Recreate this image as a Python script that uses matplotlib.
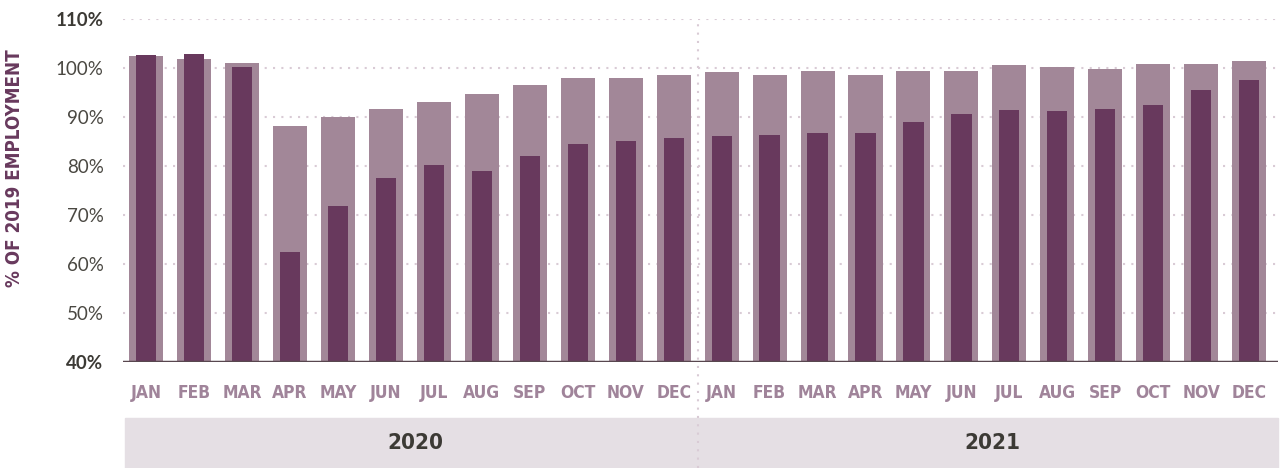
import numpy as np
import matplotlib
matplotlib.use("Agg")
import matplotlib.pyplot as plt
from matplotlib.patches import Rectangle
import matplotlib.transforms as mtransforms

# data
years = ["2020", "2021"]
months = ["JAN", "FEB", "MAR", "APR", "MAY", "JUN",
          "JUL", "AUG", "SEP", "OCT", "NOV", "DEC"]

total_pct = [102.4, 101.8, 101.0, 88.2, 90.0, 91.6, 93.0, 94.7, 96.5, 98.0, 98.0, 98.6,
             99.2, 98.6, 99.4, 98.6, 99.4, 99.4, 100.6, 100.2, 99.8, 100.8, 100.8, 101.4]
segment_pct = [102.7, 102.9, 100.2, 62.5, 71.9, 77.5, 80.3, 79.0, 82.0, 84.4, 85.1, 85.8,
               86.1, 86.3, 86.7, 86.7, 89.0, 90.6, 91.4, 91.2, 91.6, 92.4, 95.5, 97.6]

yticks = [40, 50, 60, 70, 80, 90, 100, 110]

LIGHT = "#a28798"
DARK = "#68395d"
GRID = "#d9cbd5"
TEXT = "#3c3a35"
MONTHCOL = "#a0849a"
BAND = "#e5dfe4"

narrow = dict(family="DejaVu Sans", stretch="condensed")
round_font = ["Lato", "DejaVu Sans"]

fig = plt.figure(figsize=(12.84, 4.68), dpi=100)
ax = fig.add_axes([123 / 1284, 106 / 468, 1155 / 1284, 343 / 468])

n = len(total_pct)
x = np.arange(n)

ax.bar(x, [v - 40 for v in total_pct], bottom=40, width=0.71, color=LIGHT, zorder=2)
ax.bar(x, [v - 40 for v in segment_pct], bottom=40, width=0.42, color=DARK, zorder=3)

ax.set_xlim(-0.48, n - 0.4)
ax.set_ylim(40, 110)

# dotted gridlines
for t in yticks[1:]:
    ax.axhline(t, color=GRID, lw=1.5, ls=(0, (1, 3)), zorder=1)
ax.axhline(40, color="#58474f", lw=2.5, zorder=4)

for s in ax.spines.values():
    s.set_visible(False)

ax.set_yticks(yticks)
ax.set_yticklabels([f"{t}%" for t in yticks])
ax.tick_params(axis="y", length=0, pad=14, labelsize=13.5, labelcolor="#4a4842")
for lab in ax.get_yticklabels():
    lab.set_family(round_font)
    if lab.get_text() in ("40%", "110%"):
        lab.set_fontweight("bold")
        lab.set_color(TEXT)

ax.set_xticks(x)
ax.set_xticklabels(months * len(years), fontweight="bold",
                   fontsize=12.5, color=MONTHCOL, **narrow)
ax.tick_params(axis="x", length=0, pad=16)

fig.text(15 / 1284, 1 - 168 / 468, "% OF 2019 EMPLOYMENT", rotation=90,
         ha="center", va="center", fontweight="bold", fontsize=13.5,
         color=DARK, **narrow)

# year bands and divider
trans = mtransforms.blended_transform_factory(ax.transData, ax.transAxes)
x0, x1 = ax.get_xlim()
band_top = -56 / 343
band_bot = -106 / 343
ax.add_patch(Rectangle((x0 + 0.05, band_bot), x1 - x0 - 0.05, band_top - band_bot,
                       transform=trans, color=BAND, clip_on=False, zorder=0))
per_year = len(months)
for i, yr in enumerate(years):
    lo = x0 if i == 0 else i * per_year - 0.5
    hi = x1 if i == len(years) - 1 else (i + 1) * per_year - 0.5
    ax.text((lo + hi) / 2 + 0.1, (band_top + band_bot) / 2, yr, transform=trans,
            ha="center", va="center", fontsize=16, fontweight="bold",
            color=TEXT, **narrow)
    if i > 0:
        ax.plot([lo, lo], [band_bot, 1.0], transform=trans, color=GRID, lw=1.5,
                ls=(0, (1, 3)), clip_on=False, zorder=1)

fig.savefig("out.png", dpi=100)
